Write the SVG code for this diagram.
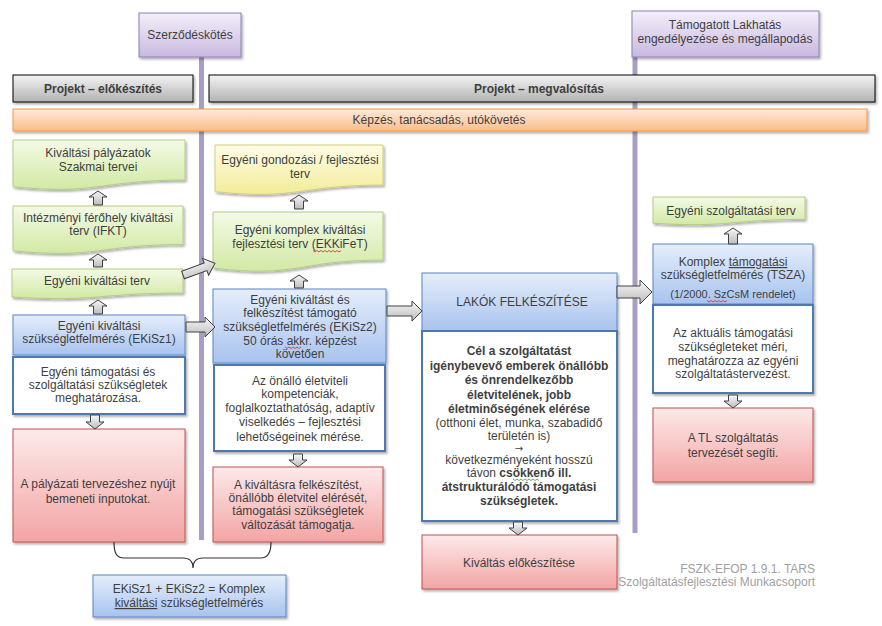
<svg xmlns="http://www.w3.org/2000/svg" width="882" height="626" viewBox="0 0 882 626">
<defs>
  <linearGradient id="gPurple" x1="0" y1="0" x2="0" y2="1"><stop offset="0" stop-color="#f3effa"/><stop offset="1" stop-color="#c8b9e0"/></linearGradient>
  <linearGradient id="gGrey" x1="0" y1="0" x2="0" y2="1"><stop offset="0" stop-color="#f4f4f4"/><stop offset="1" stop-color="#b2b2b2"/></linearGradient>
  <linearGradient id="gOrange" x1="0" y1="0" x2="0" y2="1"><stop offset="0" stop-color="#fdeadb"/><stop offset="1" stop-color="#fbbd89"/></linearGradient>
  <linearGradient id="gGreen" x1="0" y1="0" x2="0" y2="1"><stop offset="0" stop-color="#f4fae6"/><stop offset="1" stop-color="#d2e9a4"/></linearGradient>
  <linearGradient id="gYellow" x1="0" y1="0" x2="0" y2="1"><stop offset="0" stop-color="#fefde6"/><stop offset="1" stop-color="#f3ec98"/></linearGradient>
  <linearGradient id="gBlue" x1="0" y1="0" x2="0" y2="1"><stop offset="0" stop-color="#e5eefb"/><stop offset="1" stop-color="#a8c3ef"/></linearGradient>
  <linearGradient id="gRed" x1="0" y1="0" x2="0" y2="1"><stop offset="0" stop-color="#fdeaea"/><stop offset="1" stop-color="#f3a4a4"/></linearGradient>
  <linearGradient id="gArr" x1="0" y1="0" x2="0" y2="1"><stop offset="0" stop-color="#f8f8f8"/><stop offset="1" stop-color="#bcbcbc"/></linearGradient>
  <filter id="sh" x="-10%" y="-10%" width="130%" height="140%"><feDropShadow dx="1.5" dy="2" stdDeviation="1.2" flood-color="#000" flood-opacity="0.3"/></filter>
</defs>
<style>
  text { font-family: "Liberation Sans", Arial, sans-serif; font-size: 12px; fill: #3f3f3f; text-anchor: middle; }
  .b { font-weight: bold; }
  .sm { font-size: 11px; }
  .ar { font-family: "DejaVu Sans", sans-serif; font-size: 10px; }
  .foot { fill: #a0a0a0; text-anchor: end; }
  .purple { fill: url(#gPurple); stroke: #8f7fb5; stroke-width: 1; filter: url(#sh); }
  .grey { fill: url(#gGrey); stroke: #000; stroke-width: 1; filter: url(#sh); }
  .orange { fill: url(#gOrange); stroke: #f79646; stroke-width: 1; filter: url(#sh); }
  .green { fill: url(#gGreen); stroke: #b3cc82; stroke-width: 1; filter: url(#sh); }
  .yellow { fill: url(#gYellow); stroke: #d2cc84; stroke-width: 1; filter: url(#sh); }
  .blue { fill: url(#gBlue); stroke: #5b85c2; stroke-width: 1; filter: url(#sh); }
  .red { fill: url(#gRed); stroke: #c0504d; stroke-width: 1; filter: url(#sh); }
  .white { fill: #fff; stroke: #4f77b0; stroke-width: 2; filter: url(#sh); }
  .tl { stroke: #a99dc3; stroke-width: 5; }
  .arr { fill: url(#gArr); stroke: #404040; stroke-width: 1; }
  .sq { fill: none; stroke: #e02020; stroke-width: 0.8; }
  .sqg { fill: none; stroke: #3a9a3a; stroke-width: 0.8; }
</style>
<rect width="882" height="626" fill="#fff"/>

<g id="milestone-szerzodes">
  <line class="tl" x1="201.5" y1="57" x2="201.5" y2="540"/>
  <rect class="purple" x="139" y="13" width="102" height="44"/>
  <text x="190" y="39">Szerződéskötés</text>
</g>
<g id="milestone-tl">
  <line class="tl" x1="635" y1="57" x2="635" y2="533"/>
  <rect class="purple" x="632" y="11" width="187" height="46"/>
  <text x="725" y="29">Támogatott Lakhatás</text>
  <text x="725" y="43">engedélyezése és megállapodás</text>
</g>

<g id="phase-elokeszites">
  <rect class="grey" x="13" y="75" width="180" height="27"/>
  <text class="b" x="103" y="93">Projekt – előkészítés</text>
</g>
<g id="phase-megvalositas">
  <rect class="grey" x="209" y="75" width="666" height="27"/>
  <text class="b" x="539" y="93">Projekt – megvalósítás</text>
</g>
<g id="kepzes">
  <rect class="orange" x="13" y="109" width="854" height="22"/>
  <text x="439" y="124">Képzés, tanácsadás, utókövetés</text>
</g>

<!-- left column -->
<g id="palyazatok">
  <path class="green" d="M13,140 H185 V180 C99,180 99,195.3 13,186.7 Z"/>
  <text x="98" y="157">Kiváltási pályázatok</text>
  <text x="98" y="171">Szakmai tervei</text>
</g>
<g id="ifkt">
  <path class="green" d="M13,206 H183 V244.5 C98,244.5 98,259.1 13,250.8 Z"/>
  <text x="98" y="222">Intézményi férőhely kiváltási</text>
  <text x="98" y="235">terv (IFKT)</text>
</g>
<g id="egyeni-kivaltasi-terv">
  <path class="green" d="M12,269 H183 V293 C97.5,293 97.5,302.2 12,297 Z"/>
  <text x="97" y="285">Egyéni kiváltási terv</text>
</g>
<g id="ekisz1">
  <rect class="blue" x="13" y="315" width="172" height="40"/>
  <text x="99" y="330">Egyéni kiváltási</text>
  <text x="99" y="343">szükségletfelmérés (EKiSz1)</text>
</g>
<g id="ekisz1-desc">
  <rect class="white" x="13" y="357" width="172" height="57"/>
  <text x="98" y="376">Egyéni támogatási és</text>
  <text x="98" y="389">szolgáltatási szükségletek</text>
  <text x="98" y="402">meghatározása.</text>
</g>
<g id="ekisz1-result">
  <rect class="red" x="13" y="429" width="172" height="113"/>
  <text x="98" y="488">A pályázati tervezéshez nyújt</text>
  <text x="98" y="503">bemeneti inputokat.</text>
</g>

<!-- middle column -->
<g id="gondozasi-terv">
  <path class="yellow" d="M215,145 H383 V185 C299,185 299,200.3 215,191.7 Z"/>
  <text x="300" y="164">Egyéni gondozási / fejlesztési</text>
  <text x="300" y="178">terv</text>
</g>
<g id="ekkifet">
  <path class="green" d="M213,212 H383 V260 C298,260 298,278.4 213,268 Z"/>
  <text x="300" y="234">Egyéni komplex kiváltási</text>
  <text x="300" y="248">fejlesztési terv (EKKiFeT)</text>
  <path class="sq" d="M313,250.5 l2,1.5 l2,-1.5 l2,1.5 l2,-1.5 l2,1.5 l2,-1.5 l2,1.5 l2,-1.5 l2,1.5 l2,-1.5 l2,1.5 l2,-1.5 l2,1.5 l2,-1.5"/>
</g>
<g id="ekisz2">
  <rect class="blue" x="213" y="289" width="173" height="74"/>
  <text x="300" y="304">Egyéni kiváltást és</text>
  <text x="300" y="317">felkészítést támogató</text>
  <text x="300" y="331">szükségletfelmérés (EKiSz2)</text>
  <text x="300" y="345">50 órás akkr. képzést</text>
  <text x="300" y="358">követően</text>
  <path class="sq" d="M285,347 l2,1.5 l2,-1.5 l2,1.5 l2,-1.5 l2,1.5 l2,-1.5 l2,1.5 l2,-1.5"/>
</g>
<g id="ekisz2-desc">
  <rect class="white" x="214" y="365" width="171" height="86"/>
  <text x="300" y="385">Az önálló életviteli</text>
  <text x="300" y="398">kompetenciák,</text>
  <text x="300" y="412">foglalkoztathatóság, adaptív</text>
  <text x="300" y="426">viselkedés – fejlesztési</text>
  <text x="300" y="441">lehetőségeinek mérése.</text>
</g>
<g id="ekisz2-result">
  <rect class="red" x="213" y="467" width="170" height="75"/>
  <text x="298" y="489">A kiváltásra felkészítést,</text>
  <text x="298" y="502">önállóbb életvitel elérését,</text>
  <text x="298" y="515">támogatási szükségletek</text>
  <text x="298" y="529">változását támogatja.</text>
</g>

<!-- center column -->
<g id="lakok">
  <rect class="blue" x="422" y="273" width="195" height="58"/>
  <text x="522" y="306">LAKÓK FELKÉSZÍTÉSE</text>
</g>
<g id="lakok-desc">
  <rect class="white" x="422" y="331" width="195" height="190"/>
  <text class="b" x="519" y="355">Cél a szolgáltatást</text>
  <text class="b" x="519" y="370">igénybevevő emberek önállóbb</text>
  <text class="b" x="519" y="384">és önrendelkezőbb</text>
  <text class="b" x="519" y="399">életvitelének, jobb</text>
  <text class="b" x="519" y="413">életminőségének elérése</text>
  <text x="519" y="426.5">(otthoni élet, munka, szabadidő</text>
  <text x="519" y="440">területén is)</text>
  <text class="ar" x="519" y="451.5">→</text>
  <text x="519" y="463.5">következményeként hosszú</text>
  <text x="519" y="477">távon <tspan class="b">csökkenő ill.</tspan></text>
  <text class="b" x="519" y="491">átstrukturálódó támogatási</text>
  <text class="b" x="519" y="505">szükségletek.</text>
  <path class="sqg" d="M513,479 l2,1.5 l2,-1.5 l2,1.5 l2,-1.5 l2,1.5 l2,-1.5 l2,1.5 l2,-1.5 l2,1.5 l2,-1.5 l2,1.5 l2,-1.5 l2,1.5"/>
</g>
<g id="kivaltas-elokeszitese">
  <rect class="red" x="422" y="535" width="195" height="54"/>
  <text x="519" y="567">Kiváltás előkészítése</text>
</g>

<!-- right column -->
<g id="szolgaltatasi-terv">
  <path class="green" d="M653,197 H805 V219.4 C729,219.4 729,228 653,223.2 Z"/>
  <text x="731" y="215">Egyéni szolgáltatási terv</text>
</g>
<g id="tsza">
  <rect class="blue" x="653" y="244" width="160" height="60"/>
  <text x="733" y="266">Komplex <tspan text-decoration="underline">támogatási</tspan></text>
  <text x="733" y="279">szükségletfelmérés (TSZA)</text>
  <text class="sm" x="733" y="298">(1/2000. SzCsM rendelet)</text>
  <path class="sq" d="M707,300.5 l2,1.5 l2,-1.5 l2,1.5 l2,-1.5 l2,1.5 l2,-1.5 l2,1.5 l2,-1.5 l2,1.5 l2,-1.5"/>
</g>
<g id="tsza-desc">
  <rect class="white" x="653" y="305" width="160" height="88"/>
  <text x="733" y="337">Az aktuális támogatási</text>
  <text x="733" y="351">szükségleteket méri,</text>
  <text x="733" y="365">meghatározza az egyéni</text>
  <text x="733" y="378">szolgáltatástervezést.</text>
</g>
<g id="tsza-result">
  <rect class="red" x="653" y="408" width="160" height="74"/>
  <text x="733" y="442">A TL szolgáltatás</text>
  <text x="733" y="457">tervezését segíti.</text>
</g>

<!-- bottom -->
<g id="komplex-kivaltasi">
  <rect class="blue" x="93" y="575" width="193" height="42"/>
  <text x="189" y="593">EKiSz1 + EKiSz2 = Komplex</text>
  <text x="189" y="607"><tspan text-decoration="underline">kiváltási</tspan> szükségletfelmérés</text>
</g>
<g id="footer">
  <text class="foot" x="815" y="573">FSZK-EFOP 1.9.1. TARS</text>
  <text class="foot" x="815" y="586">Szolgáltatásfejlesztési Munkacsoport</text>
</g>

<g id="connectors">
  <!-- up arrows left -->
  <polygon class="arr" points="98,191 107,197 102.5,197 102.5,205 93.5,205 93.5,197 89,197"/>
  <polygon class="arr" points="98,254 107,260 102.5,260 102.5,267 93.5,267 93.5,260 89,260"/>
  <polygon class="arr" points="98,300 107,306 102.5,306 102.5,314 93.5,314 93.5,306 89,306"/>
  <polygon class="arr" points="90.5,415 99.5,415 99.5,422 104,422 95,429 86,422 90.5,422"/>
  <!-- middle -->
  <polygon class="arr" points="299,195 308,201 303.5,201 303.5,209 294.5,209 294.5,201 290,201"/>
  <polygon class="arr" points="299,275 308,281 303.5,281 303.5,288 294.5,288 294.5,281 290,281"/>
  <polygon class="arr" points="293.5,454 302.5,454 302.5,460 307,460 298,467 289,460 293.5,460"/>
  <!-- center -->
  <polygon class="arr" points="513.5,522 522.5,522 522.5,528 527,528 518,535 509,528 513.5,528"/>
  <!-- right -->
  <polygon class="arr" points="733,228 742,234 737.5,234 737.5,244 728.5,244 728.5,234 724,234"/>
  <polygon class="arr" points="728.5,395 737.5,395 737.5,401 742,401 733,408 724,401 728.5,401"/>
  <!-- horizontal -->
  <polygon class="arr" points="0,-4 24,-4 24,-9 34,0 24,9 24,4 0,4" transform="translate(183,275) rotate(-20)"/>
  <polygon class="arr" points="186,322 205,322 205,317 215,327 205,337 205,332 186,332"/>
  <polygon class="arr" points="387,306 412,306 412,301 422,311 412,321 412,316 387,316"/>
  <polygon class="arr" points="617,286 640,286 640,280 652,292 640,304 640,298 617,298"/>
  <!-- brace -->
  <path d="M114,542 C114,552 116,558 124,558 L183,558 C190,558 193,562 193,568 C193,562 196,558 203,558 L261,558 C268,558 271,552 271,542" fill="none" stroke="#333" stroke-width="1.2"/>
</g>
</svg>
